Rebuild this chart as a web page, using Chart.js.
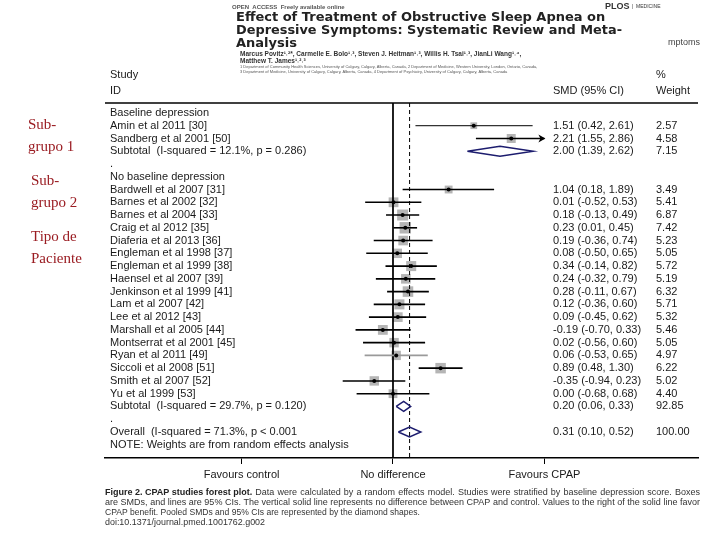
<!DOCTYPE html>
<html><head><meta charset="utf-8">
<script src="https://cdn.jsdelivr.net/npm/chart.js@4.4.0/dist/chart.umd.min.js"></script>
<style>html,body{margin:0;padding:0;background:#fff;overflow:hidden}canvas{display:block}</style>
</head><body>
<canvas id="c" width="720" height="540"></canvas>
<script>
// ---------- data ----------
const studyNames = ["Amin et al 2011 [30]","Sandberg et al 2001 [50]","Bardwell et al 2007 [31]","Barnes et al 2002 [32]","Barnes et al 2004 [33]","Craig et al 2012 [35]","Diaferia et al 2013 [36]","Engleman et al 1998 [37]","Engleman et al 1999 [38]","Haensel et al 2007 [39]","Jenkinson et al 1999 [41]","Lam et al 2007 [42]","Lee et al 2012 [43]","Marshall et al 2005 [44]","Montserrat et al 2001 [45]","Ryan et al 2011 [49]","Siccoli et al 2008 [51]","Smith et al 2007 [52]","Yu et al 1999 [53]"];
const studyRows = [1,2,6,7,8,9,10,11,12,13,14,15,16,17,18,19,20,21,22];
const smd    = [1.51,2.21,1.04,0.01,0.18,0.23,0.19,0.08,0.34,0.24,0.28,0.12,0.09,-0.19,0.02,0.06,0.89,-0.35,0.00];
const ciLow  = [0.42,1.55,0.18,-0.52,-0.13,0.01,-0.36,-0.50,-0.14,-0.32,-0.11,-0.36,-0.45,-0.70,-0.56,-0.53,0.48,-0.94,-0.68];
const ciHigh = [2.61,2.86,1.89,0.53,0.49,0.45,0.74,0.65,0.82,0.79,0.67,0.60,0.62,0.33,0.60,0.65,1.30,0.23,0.68];
const weights = [2.57,4.58,3.49,5.41,6.87,7.42,5.23,5.05,5.72,5.19,6.32,5.71,5.32,5.46,5.05,4.97,6.22,5.02,4.40];
const smdLabels = ["1.51 (0.42, 2.61)","2.21 (1.55, 2.86)","1.04 (0.18, 1.89)","0.01 (-0.52, 0.53)","0.18 (-0.13, 0.49)","0.23 (0.01, 0.45)","0.19 (-0.36, 0.74)","0.08 (-0.50, 0.65)","0.34 (-0.14, 0.82)","0.24 (-0.32, 0.79)","0.28 (-0.11, 0.67)","0.12 (-0.36, 0.60)","0.09 (-0.45, 0.62)","-0.19 (-0.70, 0.33)","0.02 (-0.56, 0.60)","0.06 (-0.53, 0.65)","0.89 (0.48, 1.30)","-0.35 (-0.94, 0.23)","0.00 (-0.68, 0.68)"];
const weightLabels = ["2.57","4.58","3.49","5.41","6.87","7.42","5.23","5.05","5.72","5.19","6.32","5.71","5.32","5.46","5.05","4.97","6.22","5.02","4.40"];

const pooledNames = ["Subtotal  (I-squared = 12.1%, p = 0.286)","Subtotal  (I-squared = 29.7%, p = 0.120)","Overall  (I-squared = 71.3%, p < 0.001"];
const pooledRows = [3,23,25];
const pooledEst  = [2.00,0.20,0.31];
const pooledLow  = [1.39,0.06,0.10];
const pooledHigh = [2.62,0.33,0.52];
const pooledSmdLabels = ["2.00 (1.39, 2.62)","0.20 (0.06, 0.33)","0.31 (0.10, 0.52)"];
const pooledWeightLabels = ["7.15","92.85","100.00"];

const headerNames = ["Baseline depression",".","No baseline depression",".","NOTE: Weights are from random effects analysis"];
const headerRows = [0,4,5,24,26];

const axisTickValues = [-2.83,0,2.83];
const axisTickLabels = ["Favours control","No difference","Favours CPAP"];
const overallEffect = 0.31;
const axisClip = 2.83;

const sideLabels = [["Sub-","grupo 1"],["Sub-","grupo 2"],["Tipo de","Paciente"]];

// ---------- layout ----------
const X_MIN = -5.383, X_MAX = 5.701;   // full plot width in SMD units
const Y_MIN = -0.78, Y_MAX = 27.04;    // row units
const FONT = '"Liberation Sans", Arial, sans-serif';
const BOX_K = 4.2;

const datasets = [];
datasets.push({type:'scatter', order:0, data: smd.map((v,i)=>({x:v,y:studyRows[i]})),
  pointStyle:'circle', pointRadius:2, pointBackgroundColor:'#000', pointBorderWidth:0});
smd.forEach((v,i)=>{
  datasets.push({type:'line', order:1, data:[{x:ciLow[i],y:studyRows[i]},{x:Math.min(ciHigh[i],axisClip),y:studyRows[i]}],
    borderColor: i===15 ? '#9a9a9a' : '#000', borderWidth: i===0 ? 1 : 1.6, pointRadius:0, fill:false});
});
pooledEst.forEach((e,i)=>{
  const r = pooledRows[i], h = 0.39;
  datasets.push({type:'line', order:1, data:[{x:pooledLow[i],y:r},{x:e,y:r-h},{x:pooledHigh[i],y:r},{x:e,y:r+h},{x:pooledLow[i],y:r}],
    borderColor:'#1c1c6e', borderWidth:1.5, pointRadius:0, fill:false, tension:0});
});
datasets.push({type:'line', order:2, data:[{x:0,y:Y_MIN},{x:0,y:Y_MAX}], borderColor:'#000', borderWidth:1, pointRadius:0});
datasets.push({type:'line', order:2, data:[{x:overallEffect,y:Y_MIN},{x:overallEffect,y:Y_MAX}], borderColor:'#000', borderWidth:1, borderDash:[4,3], pointRadius:0});
datasets.push({type:'scatter', order:3, data: smd.map((v,i)=>({x:v,y:studyRows[i]})),
  pointStyle:'rect', pointRadius: weights.map(w=>BOX_K*Math.sqrt(w)/Math.SQRT2), pointBackgroundColor:'#b5b5b5', pointBorderWidth:0});

function justify(ctx, text, x, y, width){
  const words = text.split(' ');
  const total = words.reduce((s,w)=>s+ctx.measureText(w).width,0);
  if (total + 1.5*(words.length-1) > width) { ctx.fillText(text, x, y, width); return; }
  const gap = (width-total)/(words.length-1);
  let cx = x;
  words.forEach(w=>{ ctx.fillText(w, cx, y); cx += ctx.measureText(w).width + gap; });
}

const textPlugin = {
  id:'forestText',
  afterDraw(chart){
    const ctx = chart.ctx, ys = chart.scales.y, xs = chart.scales.x, ca = chart.chartArea;
    ctx.save();
    ctx.strokeStyle = '#000'; ctx.lineWidth = 1.5;
    ctx.beginPath(); ctx.moveTo(ca.left, ca.top); ctx.lineTo(ca.right, ca.top); ctx.stroke();
    smd.forEach((v,i)=>{
      if (ciHigh[i] > axisClip) {
        const px = xs.getPixelForValue(axisClip), py = ys.getPixelForValue(studyRows[i]);
        ctx.fillStyle = '#000';
        ctx.beginPath(); ctx.moveTo(px+1, py); ctx.lineTo(px-6, py-4); ctx.lineTo(px-4, py); ctx.lineTo(px-6, py+4); ctx.closePath(); ctx.fill();
      }
    });
    ctx.fillStyle = '#1a1a1a'; ctx.textBaseline = 'middle'; ctx.textAlign = 'left';
    ctx.font = '11px ' + FONT;
    const cx1 = 110, cx2 = 553, cx3 = 656;
    ctx.fillText('Study', cx1, 75); ctx.fillText('ID', cx1, 91);
    ctx.fillText('%', cx3, 75); ctx.fillText('SMD (95% CI)', cx2, 91); ctx.fillText('Weight', cx3, 91);
    headerNames.forEach((t,i)=> ctx.fillText(t, cx1, ys.getPixelForValue(headerRows[i])));
    studyNames.forEach((t,i)=>{
      const y = ys.getPixelForValue(studyRows[i]);
      ctx.fillText(t, cx1, y); ctx.fillText(smdLabels[i], cx2, y); ctx.fillText(weightLabels[i], cx3, y);
    });
    pooledNames.forEach((t,i)=>{
      const y = ys.getPixelForValue(pooledRows[i]);
      ctx.fillText(t, cx1, y); ctx.fillText(pooledSmdLabels[i], cx2, y); ctx.fillText(pooledWeightLabels[i], cx3, y);
    });
    ctx.fillStyle = '#9a1c22'; ctx.font = '15px "Liberation Serif", "Times New Roman", serif';
    const sideY = [[125,147],[181,203],[237,259]], sideX = [28,31,31];
    sideLabels.forEach((ls,i)=> ls.forEach((t,j)=> ctx.fillText(t, sideX[i], sideY[i][j])));
    ctx.fillStyle = '#555'; ctx.font = 'bold 6px ' + FONT;
    ctx.fillText('OPEN  ACCESS  Freely available online', 232, 7, 132);
    ctx.fillStyle = '#333'; ctx.font = 'bold 9px ' + FONT;
    ctx.fillText('PLOS', 605, 7);
    ctx.font = '5px ' + FONT; ctx.fillText('|  MEDICINE', 632, 7, 40);
    ctx.fillStyle = '#222'; ctx.font = 'bold 13px "DejaVu Sans", Verdana, sans-serif';
    ctx.fillText('Effect of Treatment of Obstructive Sleep Apnea on', 236, 18, 386);
    ctx.fillText('Depressive Symptoms: Systematic Review and Meta-', 236, 31, 386);
    ctx.fillText('Analysis', 236, 44, 72);
    ctx.font = 'bold 6.5px ' + FONT; ctx.fillStyle = '#333';
    ctx.fillText('Marcus Povitz\u00B9\u02D2\u00B2*, Carmelle E. Bolo\u00B9\u02D2\u00B3, Steven J. Heitman\u00B9\u02D2\u00B3, Willis H. Tsai\u00B9\u02D2\u00B3, JianLi Wang\u00B9\u02D2\u2074,', 240, 54, 372);
    ctx.fillText('Matthew T. James\u00B9\u02D2\u00B2\u02D2\u00B3', 240, 61, 80);
    ctx.font = '4px ' + FONT; ctx.fillStyle = '#555';
    ctx.fillText('1 Department of Community Health Sciences, University of Calgary, Calgary, Alberta, Canada, 2 Department of Medicine, Western University, London, Ontario, Canada,', 240, 67, 452);
    ctx.fillText('3 Department of Medicine, University of Calgary, Calgary, Alberta, Canada, 4 Department of Psychiatry, University of Calgary, Calgary, Alberta, Canada', 240, 72, 412);
    ctx.font = '9px ' + FONT; ctx.fillStyle = '#444';
    ctx.fillText('mptoms', 668, 43);
    // caption
    ctx.font = 'bold 9px ' + FONT; ctx.fillStyle = '#222';
    const bold = 'Figure 2. CPAP studies forest plot.';
    ctx.fillText(bold, 105, 493, 150);
    const bw = Math.min(ctx.measureText(bold).width, 150) + 3;
    ctx.font = '9px ' + FONT; ctx.fillStyle = '#333';
    justify(ctx, 'Data were calculated by a random effects model. Studies were stratified by baseline depression score. Boxes', 105+bw, 493, 595-bw);
    justify(ctx, 'are SMDs, and lines are 95% CIs. The vertical solid line represents no difference between CPAP and control. Values to the right of the solid line favor', 105, 503, 595);
    ctx.fillText('CPAP benefit. Pooled SMDs and 95% CIs are represented by the diamond shapes.', 105, 513, 315);
    ctx.fillText('doi:10.1371/journal.pmed.1001762.g002', 105, 523, 160);
    ctx.restore();
  }
};

new Chart(document.getElementById('c'), {
  data:{datasets},
  options:{
    responsive:false, animation:false, events:[],
    layout:{padding:{left:105, right:22, top:103, bottom:0}},
    plugins:{legend:{display:false}, tooltip:{enabled:false}},
    scales:{
      x:{type:'linear', min:X_MIN, max:X_MAX,
        afterBuildTicks(s){ s.ticks = axisTickValues.map(v=>({value:v})); },
        afterFit(s){ s.height = 82; },
        ticks:{callback:(v)=>{const k = axisTickValues.indexOf(v); return k>=0 ? axisTickLabels[k] : '';},
          font:{size:11, family:FONT}, color:'#1a1a1a', padding:4, maxRotation:0, autoSkip:false},
        grid:{drawOnChartArea:false, drawTicks:true, tickLength:6, color:'#000', lineWidth:1},
        border:{display:true, color:'#000', width:1.5}},
      y:{type:'linear', reverse:true, min:Y_MIN, max:Y_MAX, display:false}
    }
  },
  plugins:[textPlugin]
});
</script>
</body></html>
